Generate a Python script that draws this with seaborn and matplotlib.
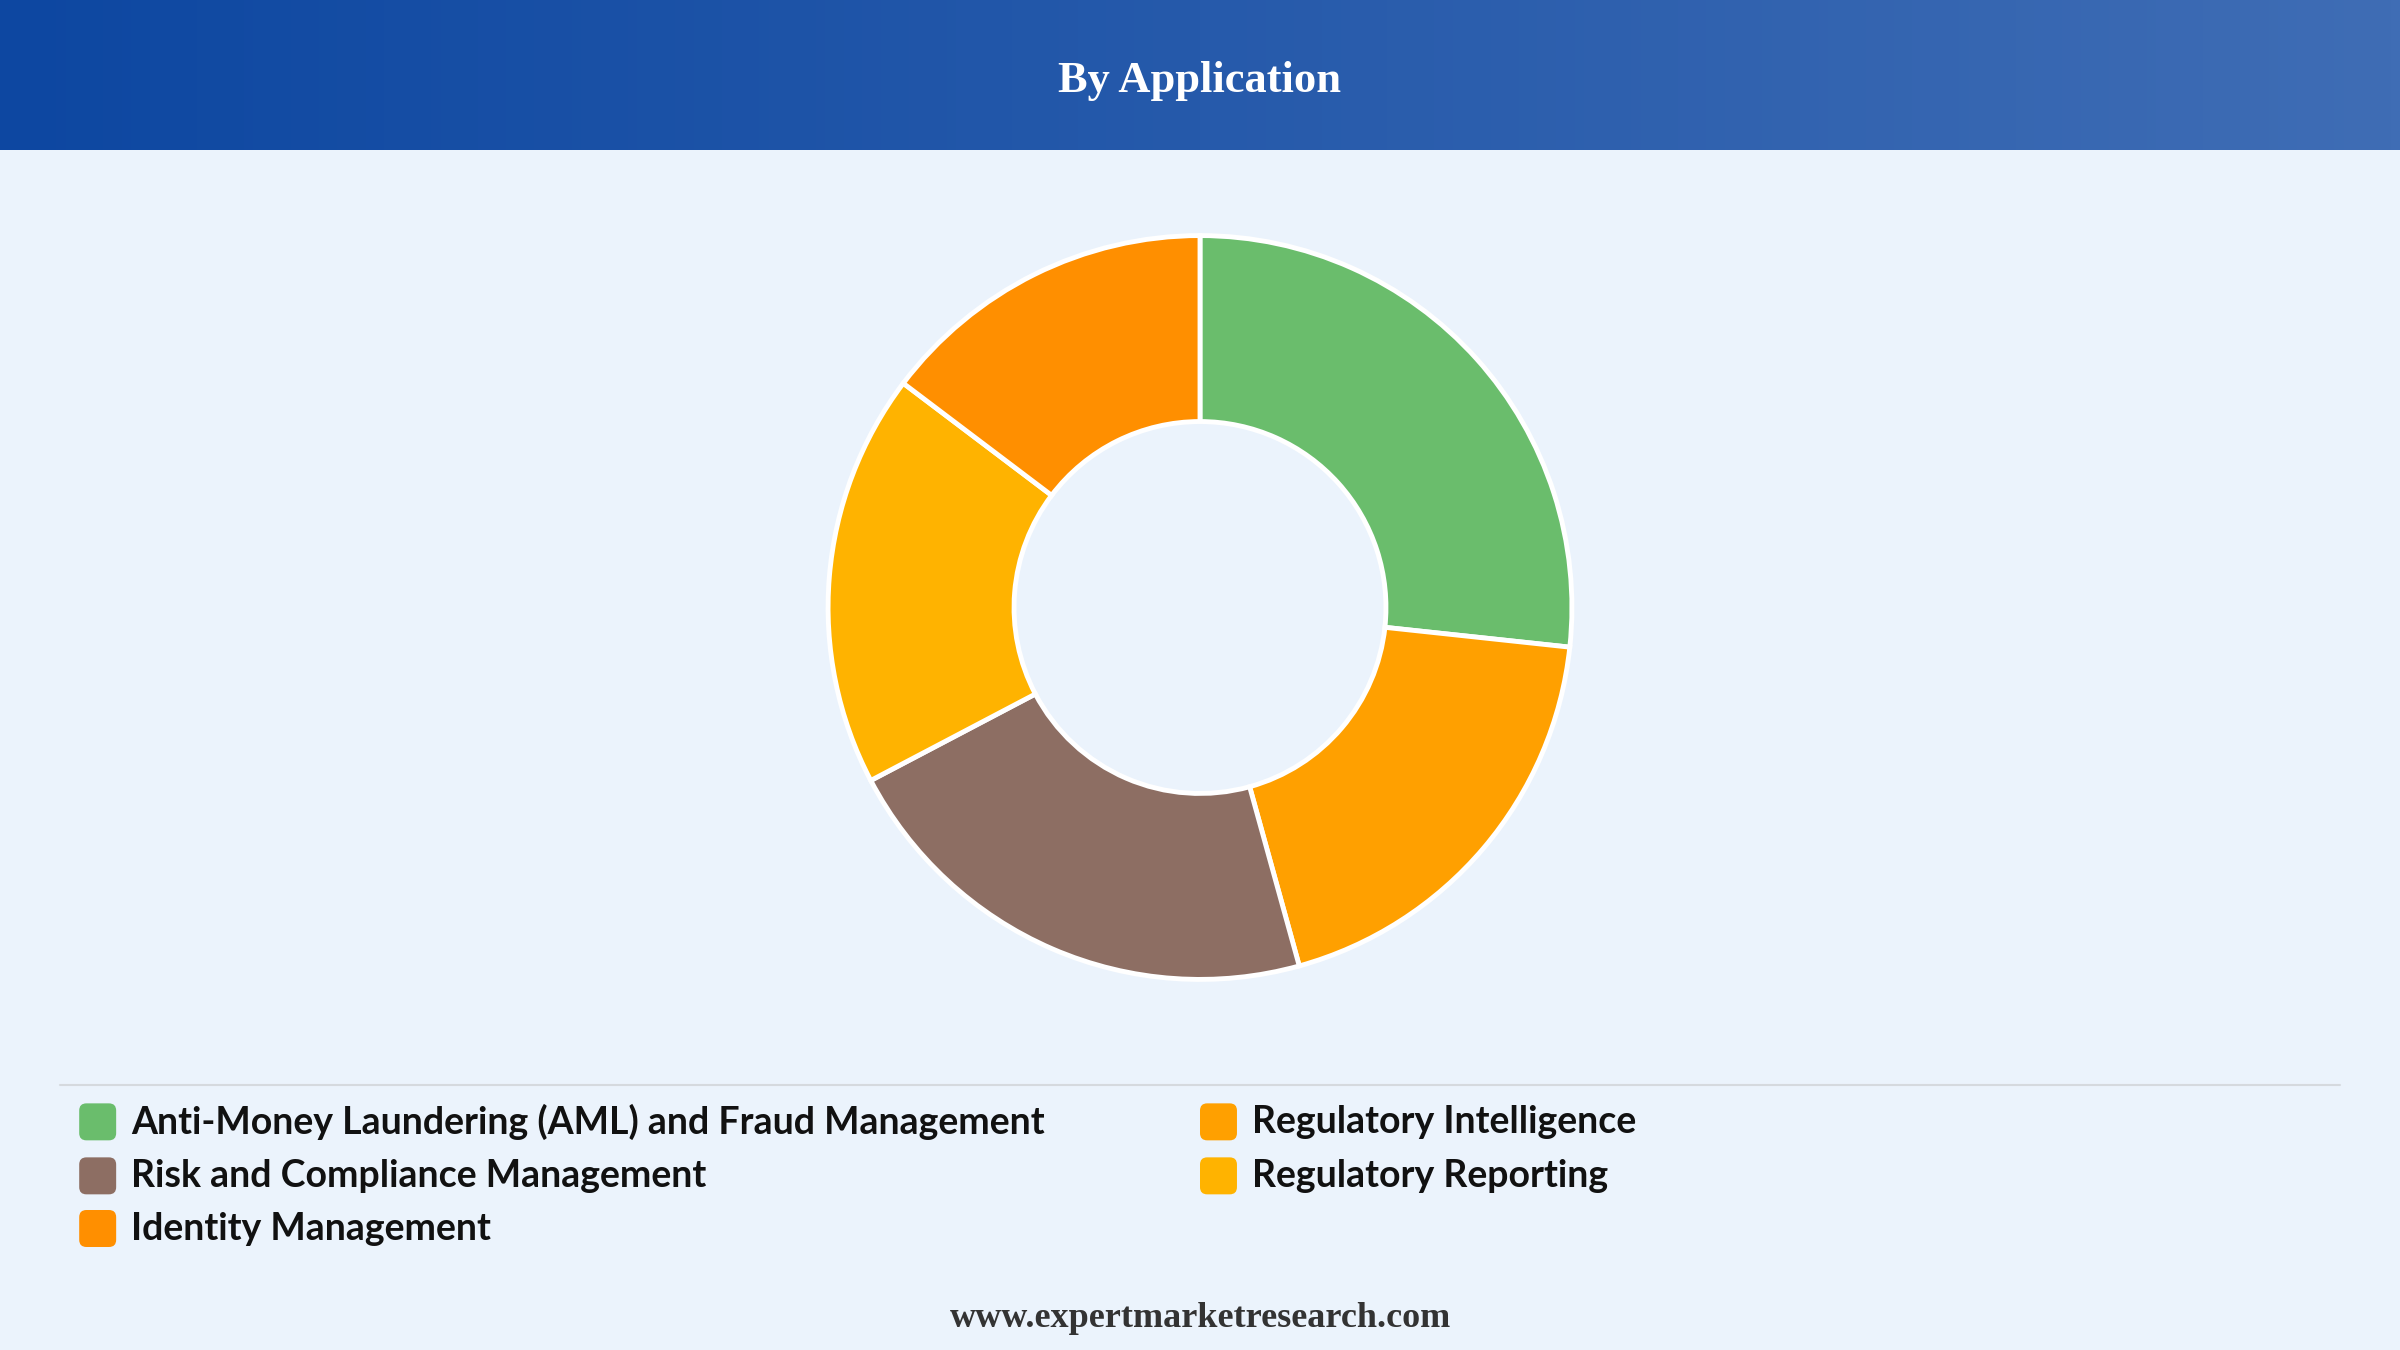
import numpy as np
import matplotlib
matplotlib.use("Agg")
import matplotlib.pyplot as plt
import seaborn as sns
from matplotlib.patches import FancyBboxPatch
from matplotlib.colors import LinearSegmentedColormap

categories = ["Anti-Money Laundering (AML) and Fraud Management", "Regulatory Intelligence",
              "Risk and Compliance Management", "Regulatory Reporting", "Identity Management"]
values = [26.7, 19.0, 21.6, 18.0, 14.7]
colors = ["#6ABD6C", "#FFA000", "#8D6E63", "#FFB300", "#FF8F00"]
title = "By Application"
footer = "www.expertmarketresearch.com"

sns.set_theme(style="white")
plt.rcParams['font.family'] = ['Lato', 'DejaVu Sans']
bg = "#EBF3FC"
fig = plt.figure(figsize=(24, 13.5), dpi=100, facecolor=bg)

hax = fig.add_axes([0, 0.889, 1, 0.111])
grad = np.linspace(0, 1, 256).reshape(1, -1)
cmap = LinearSegmentedColormap.from_list("h", ["#0D47A1", "#3F6DB5"])
hax.imshow(grad, aspect="auto", cmap=cmap, extent=[0, 1, 0, 1])
hax.axis("off")
fig.text(0.5, 0.94, title, ha="center", va="center", color="white", fontsize=32,
         fontweight="bold", family=["Liberation Serif", "DejaVu Serif"])

ax = fig.add_axes([0.345, 0.2745, 0.31, 0.551])
ax.set_facecolor(bg)
ax.pie(values, colors=colors, startangle=90, counterclock=False, radius=1,
       wedgeprops=dict(width=0.5, edgecolor="white", linewidth=3.5))
ax.set_xlim(-1.0, 1.0); ax.set_ylim(-1.0, 1.0)
ax.set_aspect("equal")
ax.axis("off")

fig.add_artist(plt.Line2D([0.025, 0.975], [0.196, 0.196], color="#D5D9DE", lw=1.5))

pos = [(0.033, 0.169), (0.500, 0.169), (0.033, 0.129), (0.500, 0.129), (0.033, 0.090)]
for (x, y), c, lab in zip(pos, colors, categories):
    fig.add_artist(FancyBboxPatch((x, y - 0.0137), 0.0154, 0.0274,
                                  boxstyle="round,pad=0,rounding_size=0.003",
                                  transform=fig.transFigure, facecolor=c, edgecolor="none",
                                  mutation_aspect=2400/1350))
    fig.text(x + 0.0215, y, lab, ha="left", va="center", fontsize=27, fontweight="bold", color="#111111")

fig.text(0.5, 0.023, footer, ha="center", va="center", fontsize=26, fontweight="bold",
         color="#333333", family=["Liberation Serif", "DejaVu Serif"])

fig.savefig("out.png", dpi=100, facecolor=bg)
